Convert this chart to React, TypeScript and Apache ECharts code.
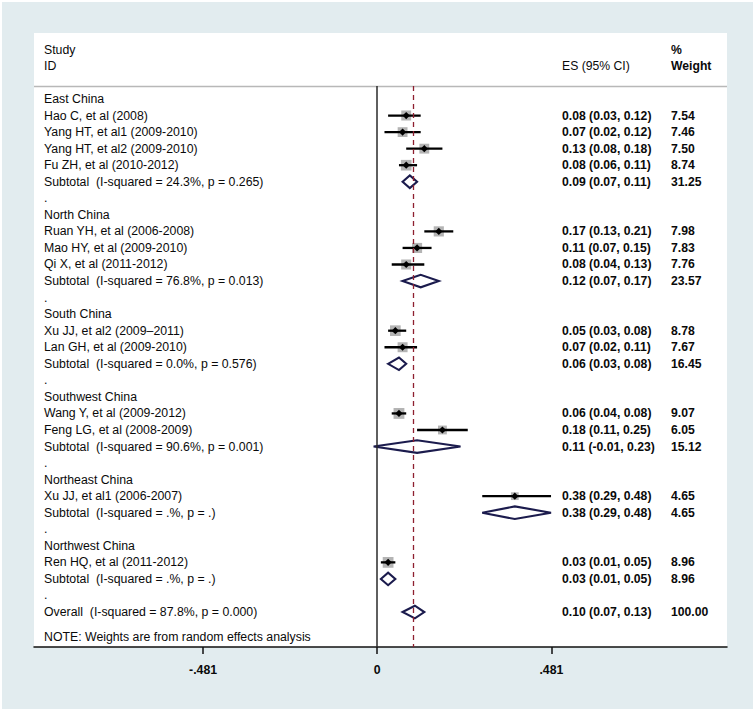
import React, { useEffect, useRef } from "react";
import * as echarts from "echarts";

// ---------- data ----------
const leftLabels: string[] = [
  "East China",
  "Hao C, et al (2008)",
  "Yang HT, et al1 (2009-2010)",
  "Yang HT, et al2 (2009-2010)",
  "Fu ZH, et al (2010-2012)",
  "Subtotal  (I-squared = 24.3%, p = 0.265)",
  ".",
  "North China",
  "Ruan YH, et al (2006-2008)",
  "Mao HY, et al (2009-2010)",
  "Qi X, et al (2011-2012)",
  "Subtotal  (I-squared = 76.8%, p = 0.013)",
  ".",
  "South China",
  "Xu JJ, et al2 (2009\u20132011)",
  "Lan GH, et al (2009-2010)",
  "Subtotal  (I-squared = 0.0%, p = 0.576)",
  ".",
  "Southwest China",
  "Wang Y, et al (2009-2012)",
  "Feng LG, et al (2008-2009)",
  "Subtotal  (I-squared = 90.6%, p = 0.001)",
  ".",
  "Northeast China",
  "Xu JJ, et al1 (2006-2007)",
  "Subtotal  (I-squared = .%, p = .)",
  ".",
  "Northwest China",
  "Ren HQ, et al (2011-2012)",
  "Subtotal  (I-squared = .%, p = .)",
  ".",
  "Overall  (I-squared = 87.8%, p = 0.000)",
  "NOTE: Weights are from random effects analysis",
];
const leftLabelRows: number[] = leftLabels.map((_, i) => (i === 32 ? 32.5 : i));

const studyRow = [1, 2, 3, 4, 8, 9, 10, 14, 15, 19, 20, 24, 28];
const studyES = [0.08, 0.07, 0.13, 0.08, 0.17, 0.11, 0.08, 0.05, 0.07, 0.06, 0.18, 0.38, 0.03];
const studyLo = [0.03, 0.02, 0.08, 0.06, 0.13, 0.07, 0.04, 0.03, 0.02, 0.04, 0.11, 0.29, 0.01];
const studyHi = [0.12, 0.12, 0.18, 0.11, 0.21, 0.15, 0.13, 0.08, 0.11, 0.08, 0.25, 0.48, 0.05];
const studyWeight = [7.54, 7.46, 7.5, 8.74, 7.98, 7.83, 7.76, 8.78, 7.67, 9.07, 6.05, 4.65, 8.96];

const pooledRow = [5, 11, 16, 21, 25, 29, 31];
const pooledES = [0.09, 0.12, 0.06, 0.11, 0.38, 0.03, 0.104];
const pooledLo = [0.07, 0.07, 0.03, -0.01, 0.29, 0.01, 0.07];
const pooledHi = [0.11, 0.17, 0.08, 0.23, 0.48, 0.05, 0.13];
const pooledWeight = [31.25, 23.57, 16.45, 15.12, 4.65, 8.96, 100.0];

const overallES = 0.104;
const xTicks = [-0.481, 0, 0.481];

// ---------- styling ----------
const FONT = '"Liberation Sans", Arial, sans-serif';
const TXT = "#0a0a0a";
const LEFT_FONT = `12.3px ${FONT}`;
const RIGHT_FONT = `bold 12.2px ${FONT}`;

const fmtCI = (es: number, lo: number, hi: number) =>
  `${es.toFixed(2)} (${lo.toFixed(2)}, ${hi.toFixed(2)})`;

export default function App() {
  const ref = useRef<HTMLDivElement>(null);

  useEffect(() => {
    if (!ref.current) return;
    const chart = echarts.init(ref.current, undefined, { renderer: "svg" });

    const studyData = studyRow.map((r, i) => [r, studyES[i], studyLo[i], studyHi[i], studyWeight[i]]);
    const pooledData = pooledRow.map((r, i) => [r, pooledES[i], pooledLo[i], pooledHi[i], pooledWeight[i]]);
    const rightRows = [
      ...studyRow.map((r, i) => ({ r, t: fmtCI(studyES[i], studyLo[i], studyHi[i]), w: studyWeight[i] })),
      ...pooledRow.map((r, i) => ({ r, t: fmtCI(pooledES[i], pooledLo[i], pooledHi[i]), w: pooledWeight[i] })),
    ];

    const option: any = {
      animation: false,
      backgroundColor: "#ffffff",
      graphic: [
        { type: "rect", z: -10, shape: { x: 2, y: 2, width: 751, height: 707 }, style: { fill: "#e2ecef" } },
        { type: "rect", z: -9, shape: { x: 34, y: 33, width: 693, height: 614 }, style: { fill: "#ffffff" } },
        { type: "line", z: -8, shape: { x1: 34, y1: 86.5, x2: 727, y2: 86.5 }, style: { stroke: "#b8b8b8", lineWidth: 1.5 } },
        { type: "text", x: 44, y: 50, style: { text: "Study", font: LEFT_FONT, fill: TXT, verticalAlign: "middle" } },
        { type: "text", x: 44, y: 66, style: { text: "ID", font: LEFT_FONT, fill: TXT, verticalAlign: "middle" } },
        { type: "text", x: 562, y: 66, style: { text: "ES (95% CI)", font: `12.2px ${FONT}`, fill: TXT, verticalAlign: "middle" } },
        { type: "text", x: 671, y: 50, style: { text: "%", font: RIGHT_FONT, fill: TXT, verticalAlign: "middle" } },
        { type: "text", x: 671, y: 66, style: { text: "Weight", font: RIGHT_FONT, fill: TXT, verticalAlign: "middle" } },
      ],
      grid: { left: 34, top: 86, width: 693, height: 561, containLabel: false },
      xAxis: {
        type: "value",
        min: -0.948,
        max: 0.966,
        splitLine: { show: false },
        axisLine: { show: true, onZero: false, lineStyle: { color: "#111", width: 1.5 } },
        axisTick: { show: true, customValues: xTicks, length: 7, lineStyle: { color: "#111", width: 1.5 } },
        axisLabel: {
          customValues: xTicks,
          margin: 17,
          fontSize: 12.3,
          fontWeight: "bold",
          fontFamily: FONT,
          color: TXT,
          formatter: (v: number) => String(v).replace("0.", "."),
        },
      },
      yAxis: { type: "value", inverse: true, min: -0.786, max: 33.114, show: false },
      series: [
        {
          name: "refLines",
          type: "scatter",
          z: 1,
          data: [],
          markLine: {
            silent: true,
            symbol: "none",
            label: { show: false },
            data: [
              { xAxis: 0, lineStyle: { color: "#2a2a2a", width: 1.5, type: "solid" } },
              { xAxis: overallES, lineStyle: { color: "#8e1f2f", width: 1.3, type: [5, 4] } },
            ],
          },
        },
        {
          name: "studies",
          type: "custom",
          z: 3,
          encode: { x: [1, 2, 3], y: 0 },
          data: studyData,
          renderItem: (params: any, api: any) => {
            const row = api.value(0);
            const c = api.coord([api.value(1), row]);
            const l = api.coord([api.value(2), row]);
            const h = api.coord([api.value(3), row]);
            const s = 3.6 * Math.sqrt(api.value(4));
            const d = 3.6;
            return {
              type: "group",
              children: [
                { type: "rect", shape: { x: c[0] - s / 2, y: c[1] - s / 2, width: s, height: s }, style: { fill: "#b4b4b4" } },
                { type: "line", shape: { x1: l[0], y1: l[1], x2: h[0], y2: h[1] }, style: { stroke: "#000", lineWidth: 2.3 } },
                {
                  type: "polygon",
                  shape: { points: [[c[0] - d, c[1]], [c[0], c[1] - d], [c[0] + d, c[1]], [c[0], c[1] + d]] },
                  style: { fill: "#000" },
                },
              ],
            };
          },
        },
        {
          name: "pooled",
          type: "custom",
          z: 3,
          encode: { x: [1, 2, 3], y: 0 },
          data: pooledData,
          renderItem: (params: any, api: any) => {
            const row = api.value(0);
            const c = api.coord([api.value(1), row]);
            const l = api.coord([api.value(2), row]);
            const h = api.coord([api.value(3), row]);
            const hh = 6.3;
            return {
              type: "polygon",
              shape: { points: [[l[0], l[1]], [c[0], c[1] - hh], [h[0], h[1]], [c[0], c[1] + hh]] },
              style: { fill: "#ffffff", stroke: "#1b1b4d", lineWidth: 2.1 },
            };
          },
        },
        {
          name: "leftText",
          type: "custom",
          z: 4,
          encode: { y: 0 },
          data: leftLabelRows.map((r) => [r]),
          renderItem: (params: any, api: any) => {
            const row = api.value(0);
            const p = api.coord([0, row]);
            return {
              type: "text",
              x: params.coordSys.x + 10,
              y: p[1],
              style: {
                text: leftLabels[params.dataIndex],
                font: LEFT_FONT,
                fill: TXT,
                align: "left",
                verticalAlign: "middle",
              },
            };
          },
        },
        {
          name: "rightText",
          type: "custom",
          z: 4,
          encode: { y: 0 },
          data: rightRows.map((o) => [o.r]),
          renderItem: (params: any, api: any) => {
            const row = api.value(0);
            const p = api.coord([0, row]);
            const o = rightRows[params.dataIndex];
            const right = params.coordSys.x + params.coordSys.width;
            return {
              type: "group",
              children: [
                {
                  type: "text",
                  x: right - 165,
                  y: p[1],
                  style: { text: o.t, font: RIGHT_FONT, fill: TXT, align: "left", verticalAlign: "middle" },
                },
                {
                  type: "text",
                  x: right - 56,
                  y: p[1],
                  style: { text: o.w.toFixed(2), font: RIGHT_FONT, fill: TXT, align: "left", verticalAlign: "middle" },
                },
              ],
            };
          },
        },
      ],
    };

    chart.setOption(option);
    return () => chart.dispose();
  }, []);

  return <div ref={ref} style={{ position: "absolute", left: 0, top: 0, width: 755, height: 712 }} />;
}
